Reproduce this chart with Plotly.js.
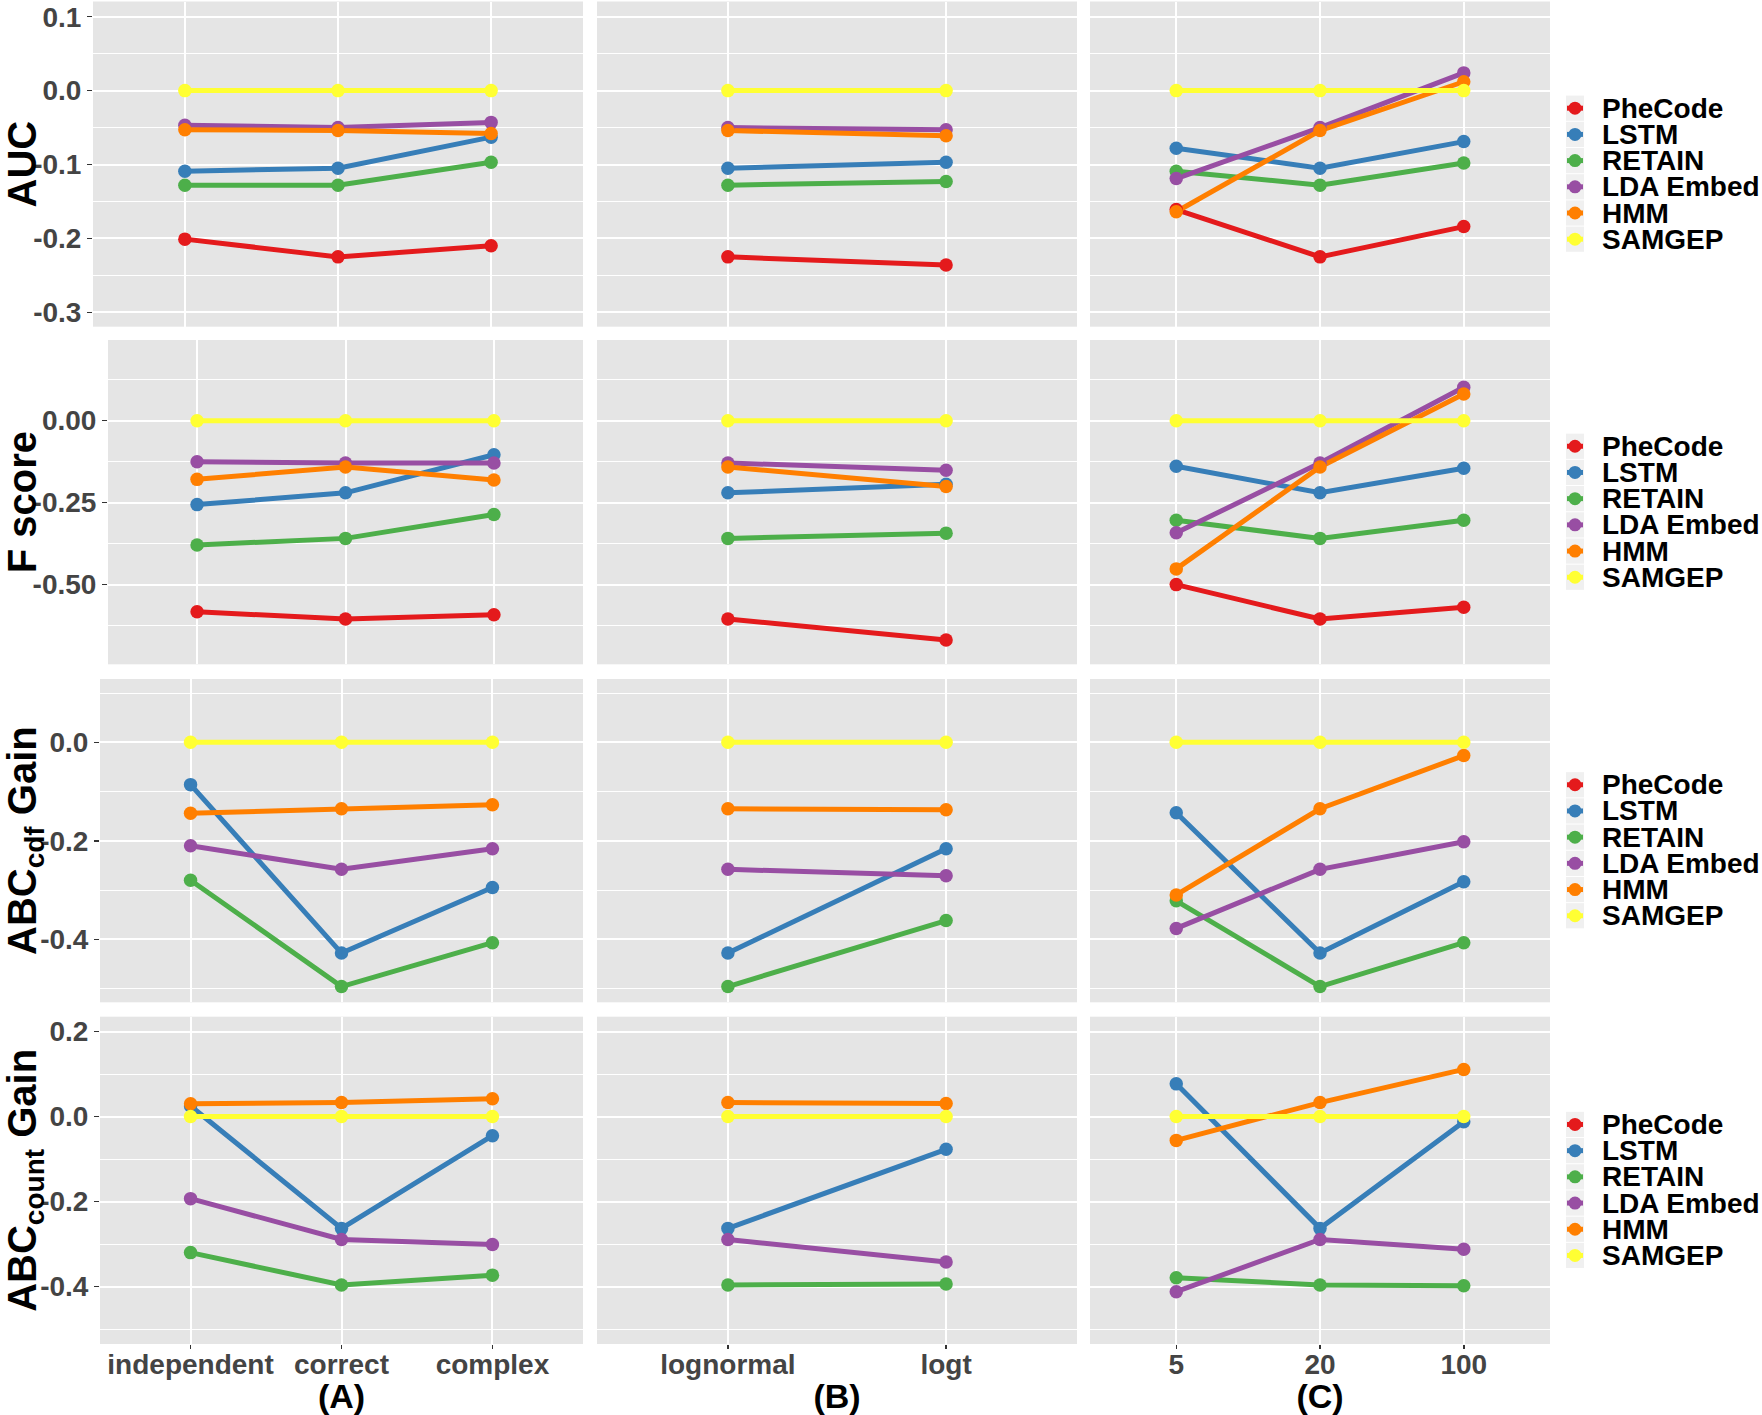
<!DOCTYPE html>
<html><head><meta charset="utf-8">
<script src="https://cdn.plot.ly/plotly-3.0.1.min.js"></script>
<style>html,body{margin:0;padding:0;background:#fff}#chart{width:1762px;height:1415px}</style>
</head><body><div id="chart"></div>
<script>
// ---------------- DATA ----------------
const methods = ['PheCode', 'LSTM', 'RETAIN', 'LDA Embed', 'HMM', 'SAMGEP'];
const catsA = ['independent', 'correct', 'complex'];
const catsB = ['lognormal', 'logt'];
const catsC = ['5', '20', '100'];

// rows of each array follow the order of `methods`
const AUC_A = [[-0.201, -0.225, -0.210], [-0.109, -0.105, -0.063], [-0.128, -0.128, -0.097], [-0.047, -0.050, -0.043], [-0.053, -0.054, -0.058], [0, 0, 0]];
const AUC_B = [[-0.225, -0.236], [-0.105, -0.097], [-0.128, -0.123], [-0.050, -0.053], [-0.054, -0.061], [0, 0]];
const AUC_C = [[-0.161, -0.225, -0.184], [-0.078, -0.105, -0.069], [-0.109, -0.128, -0.098], [-0.119, -0.050, 0.024], [-0.164, -0.054, 0.012], [0, 0, 0]];

const F_A = [[-0.583, -0.605, -0.592], [-0.256, -0.220, -0.104], [-0.379, -0.359, -0.286], [-0.125, -0.129, -0.129], [-0.179, -0.141, -0.181], [0, 0, 0]];
const F_B = [[-0.605, -0.669], [-0.220, -0.194], [-0.359, -0.343], [-0.129, -0.151], [-0.141, -0.201], [0, 0]];
const F_C = [[-0.500, -0.605, -0.569], [-0.139, -0.220, -0.145], [-0.304, -0.359, -0.304], [-0.342, -0.129, 0.102], [-0.452, -0.141, 0.081], [0, 0, 0]];

const CDF_A = [[null, null, null], [-0.086, -0.428, -0.295], [-0.280, -0.496, -0.407], [-0.210, -0.258, -0.216], [-0.144, -0.135, -0.127], [0, 0, 0]];
const CDF_B = [[null, null], [-0.428, -0.216], [-0.496, -0.362], [-0.258, -0.271], [-0.135, -0.137], [0, 0]];
const CDF_C = [[null, null, null], [-0.143, -0.428, -0.283], [-0.322, -0.496, -0.407], [-0.378, -0.258, -0.202], [-0.310, -0.135, -0.027], [0, 0, 0]];

const CNT_A = [[null, null, null], [0.025, -0.263, -0.045], [-0.320, -0.396, -0.373], [-0.193, -0.289, -0.301], [0.030, 0.033, 0.042], [0, 0, 0]];
const CNT_B = [[null, null], [-0.263, -0.077], [-0.396, -0.394], [-0.289, -0.342], [0.033, 0.031], [0, 0]];
const CNT_C = [[null, null, null], [0.077, -0.263, -0.012], [-0.379, -0.396, -0.398], [-0.412, -0.289, -0.312], [-0.056, 0.033, 0.111], [0, 0, 0]];

const yTickVals1 = [0.1, 0, -0.1, -0.2, -0.3];
const yTickText1 = ['0.1', '0.0', '-0.1', '-0.2', '-0.3'];
const yTickVals2 = [0, -0.25, -0.5];
const yTickText2 = ['0.00', '-0.25', '-0.50'];
const yTickVals3 = [0, -0.2, -0.4];
const yTickText3 = ['0.0', '-0.2', '-0.4'];
const yTickVals4 = [0.2, 0, -0.2, -0.4];
const yTickText4 = ['0.2', '0.0', '-0.2', '-0.4'];

const yTitles = ['AUC', 'F score', 'ABC<sub>cdf</sub> Gain', 'ABC<sub>count</sub> Gain'];
const xTitles = ['(A)', '(B)', '(C)'];

// ---------------- STYLE / LAYOUT ----------------
const W = 1762, H = 1415;
const FONT = 'Liberation Sans, Arial, Helvetica, sans-serif';
const colors = ['#E41A1C', '#377EB8', '#4DAF4A', '#984EA3', '#FF7F00', '#FFFF33'];
const rowPx = [[1.5, 326.7], [340, 664.3], [679, 1002.3], [1016.7, 1344]];
const colALeft = [93, 108, 100, 100];
const colPx = [[0, 583], [597, 1077], [1090, 1550]];
const yRanges = [[-0.3195, 0.1206], [-0.743, 0.246], [-0.528, 0.1285], [-0.535, 0.235]];
const minorDt = [0.05, 0.125, 0.1, 0.1];
const titleStandoff = [3, 3, 11, 11];

const cats = [catsA, catsB, catsC];
const grid = [[AUC_A, AUC_B, AUC_C], [F_A, F_B, F_C], [CDF_A, CDF_B, CDF_C], [CNT_A, CNT_B, CNT_C]];
const ticks = [[yTickVals1, yTickText1], [yTickVals2, yTickText2], [yTickVals3, yTickText3], [yTickVals4, yTickText4]];

const layout = {
  width: W, height: H,
  margin: {l: 0, r: 0, t: 0, b: 0, pad: 0},
  paper_bgcolor: '#FFFFFF',
  plot_bgcolor: '#E5E5E5',
  showlegend: false,
  font: {family: FONT, size: 28, color: '#444444', weight: 'bold'},
  shapes: [], annotations: []
};
const lineTraces = [], markerTraces = [];

for (let r = 0; r < 4; r++) {
  for (let c = 0; c < 3; c++) {
    const idx = r * 3 + c + 1;
    const xn = 'xaxis' + (idx === 1 ? '' : idx);
    const yn = 'yaxis' + (idx === 1 ? '' : idx);
    const xr = 'x' + (idx === 1 ? '' : idx);
    const yr = 'y' + (idx === 1 ? '' : idx);
    const left = c === 0 ? colALeft[r] : colPx[c][0];
    const right = colPx[c][1];
    const n = cats[c].length;
    const showX = r === 3;
    layout[xn] = {
      domain: [left / W, right / W], anchor: yr,
      type: 'category', categoryorder: 'array', categoryarray: cats[c],
      range: [-0.6, n - 0.4],
      showgrid: true, gridcolor: '#FFFFFF', gridwidth: 2,
      zeroline: false, showline: false,
      showticklabels: showX,
      ticks: showX ? 'outside' : '', ticklen: 4, tickwidth: 1.5, tickcolor: '#333333',
      ticklabelstandoff: -9,
      tickfont: {family: FONT, size: 28, color: '#444444', weight: 'bold'},
      fixedrange: true
    };
    if (showX) {
      layout[xn].title = {text: xTitles[c], standoff: 5, font: {family: FONT, size: 34, color: '#000000', weight: 'bold'}};
    }
    layout[yn] = {
      domain: [1 - rowPx[r][1] / H, 1 - rowPx[r][0] / H], anchor: xr,
      range: yRanges[r],
      tickmode: 'array', tickvals: ticks[r][0], ticktext: ticks[r][1],
      showgrid: true, gridcolor: '#FFFFFF', gridwidth: 2,
      minor: {tickmode: 'linear', tick0: 0, dtick: minorDt[r], showgrid: true, gridcolor: '#FFFFFF', gridwidth: 1, ticks: ''},
      zeroline: false, showline: false,
      showticklabels: c === 0,
      ticks: c === 0 ? 'outside' : '', ticklen: 5, tickwidth: 1.5, tickcolor: '#333333',
      tickfont: {family: FONT, size: 28, color: '#444444', weight: 'bold'},
      fixedrange: true
    };
    if (c === 0) {
      layout[yn].title = {text: yTitles[r], standoff: titleStandoff[r], font: {family: FONT, size: 40, color: '#000000', weight: 'bold'}};
    }
    const panel = grid[r][c];
    for (let m = 0; m < methods.length; m++) {
      const vals = panel[m];
      if (vals.every(v => v === null)) continue;
      lineTraces.push({
        type: 'scatter', mode: 'lines', name: methods[m], x: cats[c], y: vals,
        xaxis: xr, yaxis: yr, line: {color: colors[m], width: 5}, hoverinfo: 'skip', showlegend: false
      });
      markerTraces.push({
        type: 'scatter', mode: 'markers', name: methods[m], x: cats[c], y: vals,
        xaxis: xr, yaxis: yr, marker: {color: colors[m], size: 13.5, line: {width: 0}}, hoverinfo: 'skip', showlegend: false
      });
    }
  }
  // per-row legend (ggplot style, one per row)
  const yc = (rowPx[r][0] + rowPx[r][1]) / 2 + 9.6;
  for (let i = 0; i < methods.length; i++) {
    const yi = yc + (i - 2.5) * 26.2;
    const yp = 1 - yi / H;
    layout.shapes.push({type: 'rect', xref: 'paper', yref: 'paper', x0: 1566 / W, x1: 1584 / W,
      y0: 1 - (yi + 12.6) / H, y1: 1 - (yi - 12.6) / H, fillcolor: '#F0F0F0', line: {width: 0}, layer: 'above'});
    layout.shapes.push({type: 'line', xref: 'paper', yref: 'paper', x0: 1567 / W, x1: 1583 / W, y0: yp, y1: yp,
      line: {color: colors[i], width: 5}, layer: 'above'});
    layout.shapes.push({type: 'circle', xref: 'paper', yref: 'paper', xsizemode: 'pixel', ysizemode: 'pixel',
      xanchor: 1575 / W, yanchor: yp, x0: -6.5, x1: 6.5, y0: -6.5, y1: 6.5,
      fillcolor: colors[i], line: {width: 0}, layer: 'above'});
    layout.annotations.push({xref: 'paper', yref: 'paper', x: 1600 / W, y: yp, xanchor: 'left', yanchor: 'middle',
      text: methods[i], showarrow: false, font: {family: FONT, size: 28, color: '#000000', weight: 'bold'}});
  }
}

Plotly.newPlot('chart', lineTraces.concat(markerTraces), layout, {displayModeBar: false, staticPlot: true});
</script>
</body></html>
